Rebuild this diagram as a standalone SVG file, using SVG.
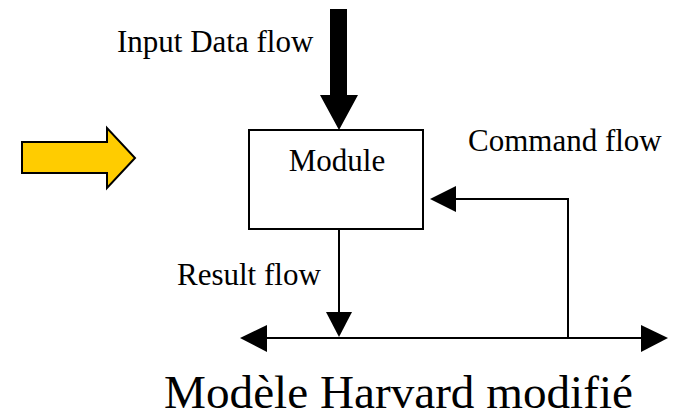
<svg xmlns="http://www.w3.org/2000/svg" width="673" height="413" viewBox="0 0 673 413">
  <style>
    .lbl { font-family: "Liberation Serif", "Times New Roman", serif; font-size: 31px; fill: #000; }
    .title { font-family: "Liberation Serif", "Times New Roman", serif; font-size: 46px; fill: #000; }
    .wire { fill: none; stroke: #000; stroke-width: 2; }
    .head { fill: #000; stroke: none; }
  </style>
  <rect width="673" height="413" fill="#fff"/>

  <!-- yellow pointer on the left -->
  <g id="pointer">
    <polygon points="22,142 107,142 107,128 135,158 107,188 107,173 22,173" fill="#ffcc00" stroke="#000" stroke-width="2" stroke-linejoin="miter"/>
  </g>

  <!-- processing module -->
  <g id="module">
    <rect x="249" y="130" width="174" height="99" fill="#fff" stroke="#000" stroke-width="2"/>
    <text class="lbl" x="337" y="171" text-anchor="middle">Module</text>
  </g>

  <!-- connectors -->
  <g id="connectors">
    <!-- input data flow (thick) -->
    <polygon class="head" points="330,9 347,9 347,95 358,95 339,130 320,95 330,95"/>
    <!-- result flow down to the bus -->
    <line class="wire" x1="339" y1="229" x2="339" y2="313"/>
    <polygon class="head" points="326,312 352,312 339,337"/>
    <!-- bus, both directions -->
    <line class="wire" x1="262" y1="338" x2="646" y2="338"/>
    <polygon class="head" points="240,338 267,325 267,352"/>
    <polygon class="head" points="668,338 641,325 641,352"/>
    <!-- command flow back into the module -->
    <polyline class="wire" points="568,338 568,199 452,199"/>
    <polygon class="head" points="430,199 456,186 456,212"/>
  </g>

  <g id="labels">
    <text class="lbl" x="117" y="52">Input Data flow</text>
    <text class="lbl" x="177" y="285">Result flow</text>
    <text class="lbl" x="468" y="151">Command flow</text>
    <text class="title" x="164" y="408" textLength="469" lengthAdjust="spacingAndGlyphs">Modèle Harvard modifié</text>
  </g>
</svg>
